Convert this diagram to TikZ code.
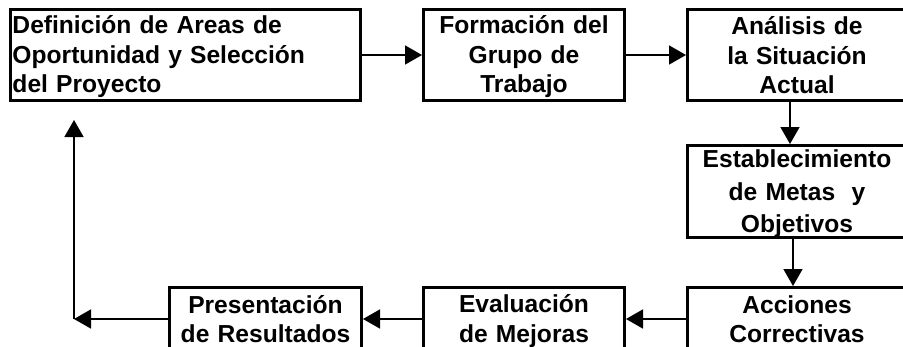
\documentclass[tikz,border=0pt]{standalone}
\usepackage{fontspec}
\setmainfont{Liberation Sans}
\usetikzlibrary{arrows.meta}

\newcommand{\reng}{\rule[-4pt]{0pt}{26pt}}

\begin{document}
\begin{tikzpicture}[x=1pt,y=-1pt,
    caja/.style={draw,line width=3pt,inner xsep=2pt,inner ysep=0pt,
        font=\fontsize{24.6pt}{29.5pt}\selectfont\bfseries},
    flecha/.style={line width=1.5pt,-{Triangle[length=17pt,width=19pt]}}]
    \pgfmathsetmacro{\altoarriba}{91}
    \pgfmathsetmacro{\altoabajo}{63}
    \pgfmathsetmacro{\anchoder}{219}
    \useasboundingbox (0,0) rectangle (903,346);
    \clip (0,0) rectangle (903,346);
    % fila de arriba
    \node[caja,anchor=north west,minimum width=350pt,minimum height=\altoarriba pt,
        text width=346pt,align=left] (def) at (9,8)
        {\reng Definición de Areas de\\\reng Oportunidad y Selección\\\reng del Proyecto};
    \node[caja,anchor=north west,minimum width=201pt,minimum height=\altoarriba pt,
        text width=197pt,align=center] (grupo) at (422,8)
        {\reng Formación del\\\reng Grupo de\\\reng Trabajo};
    \node[caja,anchor=north west,minimum width=\anchoder pt,minimum height=\altoarriba pt,
        text width=210pt,align=center] (analisis) at (686,8)
        {\reng Análisis de\\\reng la Situación\\\reng Actual};
    \node[caja,anchor=north west,minimum width=\anchoder pt,minimum height=\altoarriba pt,
        text width=210pt,align=center,font=\fontsize{24.6pt}{32.5pt}\selectfont\bfseries] (metas) at (686,144)
        {\reng Establecimiento\\\reng de Metas \ y\\\reng Objetivos};
    % fila de abajo
    \node[caja,anchor=north west,minimum width=\anchoder pt,minimum height=\altoabajo pt,
        text width=210pt,align=center] (acciones) at (686,286)
        {\reng Acciones\\\reng Correctivas};
    \node[caja,anchor=north west,minimum width=201pt,minimum height=\altoabajo pt,
        text width=197pt,align=center] (mejoras) at (422,286)
        {\reng Evaluación\\\reng de Mejoras};
    \node[caja,anchor=north west,minimum width=192pt,minimum height=\altoabajo pt,
        text width=188pt,align=center] (resultados) at (168,286)
        {\reng Presentación\\\reng de Resultados};
    \coordinate (codo) at (74,0);
    \coordinate (retorno) at (74,120);
    \draw[flecha] (def.east) -- (grupo.west);
    \draw[flecha] (grupo.east) -- (analisis.west);
    \draw[flecha] ([xshift=-7pt]analisis.south) -- ([xshift=-7pt]metas.north);
    \draw[flecha] ([xshift=-4pt]metas.south) -- ([xshift=-4pt]acciones.north);
    \draw[flecha] (acciones.west) -- (mejoras.east);
    \draw[flecha] (mejoras.west) -- (resultados.east);
    \draw[flecha] (resultados.west) -- (resultados.west -| codo);
    \draw[flecha] (resultados.west -| codo) -- (retorno);
\end{tikzpicture}
\end{document}
